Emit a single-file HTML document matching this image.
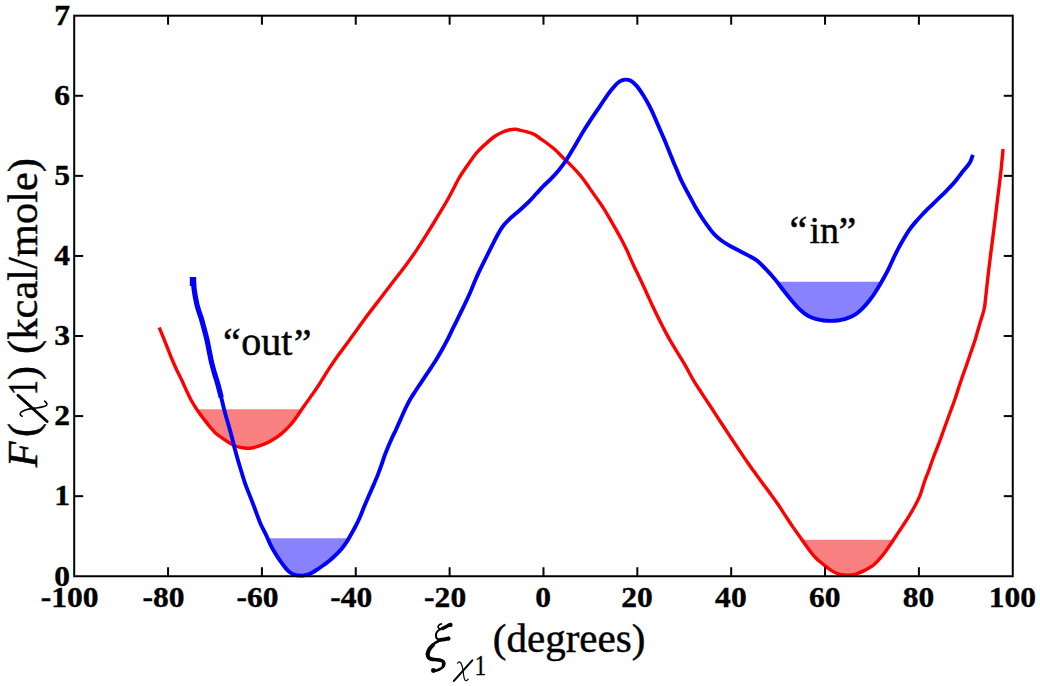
<!DOCTYPE html><html><head><meta charset="utf-8"><style>html,body{margin:0;padding:0;background:#fff;}svg{display:block;}</style></head><body>
<svg width="1040" height="686" viewBox="0 0 1040 686">
<rect width="1040" height="686" fill="#fff"/>
<polygon fill="#f98080" points="196.74,409.30 197.17,410.00 204.09,419.37 209.78,426.55 215.38,432.92 222.30,438.09 229.60,442.95 236.90,446.51 244.18,447.99 251.42,448.04 258.52,446.11 264.77,443.93 270.68,441.08 278.33,436.23 285.02,430.51 291.07,424.27 296.35,417.28 301.64,409.51 301.78,409.30"/>
<polygon fill="#f98080" points="802.01,539.80 807.08,547.03 813.37,555.45 818.91,560.82 824.53,565.36 830.11,569.64 836.00,572.98 842.00,574.73 847.82,575.11 853.09,574.65 858.50,573.04 864.56,570.37 872.37,565.96 879.63,558.83 885.72,551.15 891.58,542.68 893.50,539.80"/>
<polygon fill="#8882ff" points="267.59,538.30 270.12,544.20 273.57,550.60 277.50,556.87 281.50,562.68 285.59,568.12 290.09,572.47 294.98,574.81 299.70,575.57 304.26,575.33 310.55,573.48 317.18,569.52 323.72,565.01 330.28,560.00 336.62,554.20 342.10,548.20 346.68,541.89 348.79,538.30"/>
<polygon fill="#8882ff" points="776.99,281.80 783.23,290.00 791.23,300.00 799.19,308.94 805.06,313.90 810.38,316.94 816.50,319.09 823.48,320.48 830.62,320.89 837.78,320.48 844.72,319.09 851.00,316.85 857.12,313.22 863.28,307.71 869.22,300.82 874.50,293.50 879.60,285.32 881.59,281.80"/>
<path d="M159.20,327.50 C160.00,329.42 162.47,335.31 163.97,339.04 C165.48,342.76 166.86,346.36 168.25,349.86 C169.63,353.35 170.87,356.64 172.29,360.00 C173.71,363.36 175.19,366.67 176.76,370.00 C178.33,373.33 180.13,376.67 181.70,380.00 C183.27,383.33 184.63,386.67 186.19,390.00 C187.75,393.33 189.22,396.67 191.05,400.00 C192.88,403.33 195.00,406.77 197.17,410.00 C199.34,413.23 201.98,416.61 204.09,419.37 C206.19,422.13 207.90,424.30 209.78,426.55 C211.66,428.81 213.29,431.00 215.38,432.92 C217.46,434.84 219.93,436.42 222.30,438.09 C224.67,439.76 227.17,441.54 229.60,442.95 C232.03,444.35 234.47,445.67 236.90,446.51 C239.33,447.35 241.76,447.74 244.18,447.99 C246.60,448.25 249.03,448.36 251.42,448.04 C253.81,447.73 256.30,446.79 258.52,446.11 C260.74,445.42 262.74,444.77 264.77,443.93 C266.79,443.09 268.42,442.36 270.68,441.08 C272.94,439.79 275.94,437.99 278.33,436.23 C280.72,434.47 282.90,432.50 285.02,430.51 C287.14,428.52 289.18,426.48 291.07,424.27 C292.96,422.07 294.59,419.75 296.35,417.28 C298.12,414.82 299.82,412.12 301.64,409.51 C303.45,406.90 305.28,404.40 307.24,401.63 C309.21,398.86 311.38,395.81 313.42,392.86 C315.46,389.92 317.67,386.75 319.49,383.97 C321.32,381.19 322.70,378.85 324.37,376.16 C326.05,373.48 327.23,371.34 329.54,367.87 C331.86,364.39 335.22,359.53 338.25,355.31 C341.28,351.08 344.64,346.70 347.73,342.50 C350.81,338.30 353.90,334.05 356.76,330.09 C359.61,326.13 362.34,322.13 364.84,318.72 C367.34,315.31 369.36,312.76 371.75,309.64 C374.14,306.52 376.68,303.27 379.18,300.00 C381.69,296.73 384.24,293.33 386.78,290.00 C389.32,286.67 391.83,283.33 394.41,280.00 C396.99,276.67 399.71,273.33 402.26,270.00 C404.80,266.67 407.17,263.48 409.66,260.00 C412.16,256.52 414.56,253.12 417.23,249.10 C419.91,245.08 423.17,239.92 425.71,235.90 C428.24,231.88 430.38,228.41 432.46,225.00 C434.55,221.59 436.47,218.37 438.23,215.45 C439.99,212.53 441.47,210.07 443.00,207.50 C444.53,204.93 446.00,202.50 447.41,200.00 C448.82,197.50 450.19,194.93 451.48,192.50 C452.77,190.07 454.04,187.57 455.15,185.45 C456.25,183.33 457.00,181.75 458.12,179.77 C459.23,177.78 460.42,175.74 461.85,173.52 C463.28,171.30 465.04,168.81 466.70,166.42 C468.36,164.03 470.01,161.60 471.80,159.18 C473.59,156.76 475.20,154.37 477.42,151.90 C479.65,149.43 482.36,146.89 485.15,144.37 C487.94,141.84 491.24,138.81 494.17,136.74 C497.11,134.67 500.14,133.10 502.78,131.93 C505.42,130.76 507.90,130.14 510.01,129.71 C512.13,129.27 513.65,129.21 515.46,129.31 C517.28,129.41 519.09,129.90 520.91,130.30 C522.73,130.70 524.51,131.16 526.36,131.69 C528.21,132.22 530.30,132.79 531.99,133.45 C533.68,134.12 535.05,134.78 536.50,135.70 C537.96,136.61 538.92,137.65 540.72,138.95 C542.52,140.25 544.99,141.77 547.30,143.50 C549.61,145.23 552.17,147.18 554.60,149.34 C557.03,151.50 559.47,154.10 561.90,156.47 C564.33,158.85 566.78,161.17 569.18,163.57 C571.58,165.97 574.00,168.34 576.29,170.87 C578.58,173.41 580.75,175.94 582.93,178.77 C585.11,181.60 587.13,184.69 589.38,187.88 C591.63,191.07 594.07,194.53 596.42,197.90 C598.76,201.27 601.25,204.70 603.45,208.10 C605.64,211.50 607.59,214.90 609.58,218.30 C611.57,221.70 613.46,225.06 615.40,228.50 C617.34,231.94 619.34,235.41 621.22,238.97 C623.10,242.53 625.14,246.59 626.69,249.84 C628.23,253.09 629.27,255.73 630.48,258.46 C631.70,261.19 632.35,262.77 633.98,266.22 C635.61,269.67 638.11,274.60 640.27,279.18 C642.44,283.76 644.75,288.86 646.98,293.72 C649.21,298.57 651.39,303.54 653.64,308.30 C655.90,313.06 658.39,318.05 660.51,322.27 C662.63,326.49 664.48,330.08 666.37,333.60 C668.27,337.13 669.84,339.91 671.90,343.40 C673.95,346.90 676.38,350.72 678.72,354.58 C681.06,358.45 683.51,362.38 685.93,366.60 C688.35,370.81 690.62,375.46 693.24,379.87 C695.87,384.29 698.77,388.61 701.68,393.10 C704.60,397.59 707.57,401.98 710.72,406.79 C713.87,411.61 717.43,417.19 720.58,422.01 C723.73,426.82 726.65,431.23 729.62,435.70 C732.59,440.17 735.56,444.59 738.38,448.82 C741.21,453.05 744.11,457.47 746.58,461.06 C749.04,464.66 750.85,467.16 753.17,470.40 C755.49,473.63 757.83,476.89 760.47,480.47 C763.11,484.05 766.15,488.04 768.98,491.88 C771.81,495.72 774.78,499.65 777.45,503.52 C780.12,507.39 782.50,511.30 785.00,515.11 C787.50,518.92 789.93,522.70 792.46,526.38 C795.00,530.07 797.78,533.79 800.21,537.23 C802.65,540.67 804.89,543.99 807.08,547.03 C809.27,550.07 811.39,553.16 813.37,555.45 C815.34,557.75 817.05,559.17 818.91,560.82 C820.77,562.47 822.66,563.89 824.53,565.36 C826.39,566.83 828.20,568.37 830.11,569.64 C832.02,570.91 834.02,572.13 836.00,572.98 C837.98,573.82 840.03,574.37 842.00,574.73 C843.97,575.09 845.97,575.12 847.82,575.11 C849.67,575.10 851.31,574.99 853.09,574.65 C854.87,574.30 856.59,573.75 858.50,573.04 C860.41,572.32 862.25,571.55 864.56,570.37 C866.87,569.19 869.85,567.89 872.37,565.96 C874.88,564.04 877.40,561.30 879.63,558.83 C881.86,556.36 883.73,553.84 885.72,551.15 C887.71,548.46 889.63,545.55 891.58,542.68 C893.53,539.81 895.46,536.83 897.40,533.92 C899.34,531.00 901.27,528.14 903.22,525.18 C905.17,522.22 907.14,519.35 909.08,516.15 C911.03,512.94 913.10,509.33 914.90,505.95 C916.70,502.57 918.65,498.68 919.85,495.86 C921.06,493.04 921.28,491.67 922.14,489.03 C923.01,486.38 923.91,483.17 925.05,480.00 C926.19,476.83 927.73,473.33 928.97,470.00 C930.20,466.67 931.24,463.33 932.46,460.00 C933.68,456.67 935.00,453.33 936.28,450.00 C937.56,446.67 938.89,443.33 940.13,440.00 C941.37,436.67 942.52,433.33 943.72,430.00 C944.92,426.67 946.10,423.33 947.32,420.00 C948.53,416.67 949.79,413.33 951.02,410.00 C952.24,406.67 953.52,403.33 954.67,400.00 C955.83,396.67 956.84,393.33 957.94,390.00 C959.03,386.67 960.11,383.33 961.25,380.00 C962.39,376.67 963.61,373.33 964.78,370.00 C965.95,366.67 967.12,363.33 968.26,360.00 C969.41,356.67 970.53,353.33 971.67,350.00 C972.81,346.67 974.08,343.28 975.12,340.00 C976.16,336.72 977.07,333.32 977.93,330.34 C978.79,327.36 979.55,324.59 980.28,322.12 C981.02,319.64 981.76,317.42 982.34,315.50 C982.92,313.59 983.35,312.31 983.76,310.61 C984.17,308.91 984.49,307.35 984.79,305.29 C985.10,303.23 985.23,301.62 985.60,298.24 C985.97,294.85 986.48,289.86 987.02,285.00 C987.56,280.14 988.14,274.93 988.84,269.10 C989.54,263.27 990.41,256.37 991.22,250.00 C992.02,243.63 992.93,236.73 993.67,230.90 C994.41,225.07 995.04,220.15 995.66,215.00 C996.29,209.85 996.83,205.00 997.44,200.00 C998.04,195.00 998.71,189.86 999.30,185.00 C999.89,180.14 1000.54,175.07 1001.00,170.85 C1001.46,166.62 1001.70,163.27 1002.05,159.63 C1002.40,155.99 1002.93,150.77 1003.10,149.00" fill="none" stroke="#ff0000" stroke-width="3.4" stroke-linejoin="round"/>
<path d="M193.10,277.50 C193.28,279.51 193.63,285.38 194.20,289.54 C194.76,293.70 195.74,299.02 196.47,302.47 C197.19,305.93 197.75,307.67 198.53,310.27 C199.32,312.87 200.27,315.02 201.20,318.09 C202.13,321.17 203.15,325.17 204.10,328.73 C205.05,332.29 206.02,335.77 206.87,339.45 C207.72,343.13 208.42,347.02 209.20,350.82 C209.98,354.61 210.65,358.54 211.53,362.23 C212.40,365.92 213.38,369.23 214.44,372.95 C215.51,376.67 216.79,380.46 217.93,384.55 C219.06,388.64 220.19,393.14 221.26,397.48 C222.34,401.82 223.38,406.65 224.40,410.58 C225.42,414.51 226.46,417.79 227.39,421.07 C228.33,424.34 229.15,427.06 230.02,430.23 C230.89,433.40 231.72,436.67 232.60,440.09 C233.48,443.51 234.34,447.07 235.33,450.73 C236.31,454.40 237.42,458.35 238.50,462.07 C239.58,465.78 240.67,469.32 241.82,473.03 C242.97,476.75 244.10,480.69 245.40,484.37 C246.70,488.04 248.23,491.56 249.61,495.10 C250.99,498.64 252.37,502.15 253.68,505.60 C254.99,509.05 256.28,512.65 257.47,515.81 C258.67,518.97 259.73,521.95 260.87,524.55 C262.01,527.15 263.23,529.19 264.31,531.40 C265.39,533.61 266.41,535.67 267.37,537.80 C268.34,539.93 269.08,542.07 270.12,544.20 C271.15,546.33 272.34,548.49 273.57,550.60 C274.80,552.71 276.18,554.86 277.50,556.87 C278.82,558.89 280.15,560.81 281.50,562.68 C282.85,564.56 284.16,566.49 285.59,568.12 C287.02,569.75 288.52,571.35 290.09,572.47 C291.66,573.58 293.38,574.29 294.98,574.81 C296.58,575.33 298.16,575.49 299.70,575.57 C301.25,575.66 302.45,575.68 304.26,575.33 C306.07,574.98 308.39,574.45 310.55,573.48 C312.70,572.51 314.99,570.93 317.18,569.52 C319.38,568.11 321.53,566.60 323.72,565.01 C325.90,563.42 328.13,561.80 330.28,560.00 C332.43,558.20 334.65,556.17 336.62,554.20 C338.59,552.23 340.42,550.25 342.10,548.20 C343.78,546.15 345.20,544.17 346.68,541.89 C348.17,539.61 349.56,537.04 351.00,534.52 C352.44,532.00 353.87,529.50 355.30,526.76 C356.73,524.01 358.13,521.26 359.56,518.03 C360.99,514.80 362.34,511.08 363.88,507.37 C365.42,503.67 367.16,499.63 368.82,495.80 C370.48,491.97 372.28,488.02 373.84,484.37 C375.40,480.72 376.88,477.26 378.19,473.90 C379.51,470.54 380.71,467.14 381.73,464.22 C382.75,461.31 383.39,459.01 384.33,456.42 C385.26,453.82 386.17,451.52 387.35,448.66 C388.53,445.80 389.99,442.41 391.42,439.25 C392.85,436.09 394.36,433.11 395.93,429.71 C397.49,426.32 399.21,422.42 400.81,418.88 C402.41,415.34 403.93,411.71 405.50,408.45 C407.07,405.19 408.57,402.19 410.21,399.32 C411.84,396.44 413.59,393.87 415.32,391.20 C417.05,388.53 418.83,385.93 420.58,383.30 C422.33,380.67 424.07,378.04 425.82,375.42 C427.57,372.80 429.33,370.24 431.08,367.58 C432.83,364.92 434.57,362.31 436.32,359.47 C438.07,356.62 439.79,353.68 441.58,350.50 C443.37,347.32 445.02,344.39 447.07,340.38 C449.12,336.37 451.36,331.55 453.88,326.44 C456.39,321.33 459.51,315.19 462.16,309.71 C464.80,304.22 467.58,298.39 469.74,293.52 C471.91,288.65 473.47,284.40 475.15,280.50 C476.82,276.61 478.26,273.43 479.80,270.16 C481.34,266.89 482.87,263.96 484.40,260.88 C485.93,257.81 487.47,254.76 489.00,251.70 C490.53,248.64 492.05,245.55 493.60,242.50 C495.15,239.45 496.66,236.30 498.33,233.43 C499.99,230.55 501.74,227.67 503.61,225.27 C505.47,222.87 507.46,220.97 509.51,219.01 C511.56,217.05 513.75,215.38 515.92,213.49 C518.08,211.61 520.28,209.72 522.50,207.70 C524.72,205.68 526.92,203.73 529.24,201.37 C531.57,199.01 534.08,196.12 536.46,193.54 C538.85,190.96 541.21,188.28 543.57,185.89 C545.94,183.49 548.10,181.82 550.67,179.17 C553.24,176.52 556.37,173.20 558.98,170.00 C561.59,166.80 564.09,163.33 566.33,160.00 C568.57,156.67 570.43,153.33 572.42,150.00 C574.41,146.67 576.31,143.33 578.26,140.00 C580.22,136.67 581.99,133.48 584.14,130.00 C586.30,126.52 588.52,123.12 591.18,119.10 C593.85,115.08 597.50,109.78 600.12,105.90 C602.73,102.02 605.00,98.51 606.89,95.81 C608.77,93.11 610.00,91.48 611.45,89.68 C612.89,87.88 614.09,86.44 615.54,85.02 C617.00,83.60 618.57,82.06 620.17,81.16 C621.77,80.26 623.45,79.70 625.15,79.61 C626.84,79.51 628.42,79.54 630.34,80.58 C632.26,81.62 634.54,83.44 636.66,85.85 C638.79,88.25 641.06,91.81 643.09,95.00 C645.13,98.19 647.18,101.82 648.88,105.00 C650.59,108.18 652.09,111.45 653.31,114.10 C654.54,116.75 655.08,118.25 656.23,120.90 C657.38,123.55 658.82,126.82 660.20,130.00 C661.58,133.18 663.13,136.67 664.53,140.00 C665.93,143.33 667.25,146.67 668.60,150.00 C669.95,153.33 671.29,156.70 672.65,160.00 C674.02,163.30 675.45,166.68 676.77,169.82 C678.10,172.96 679.29,175.98 680.59,178.84 C681.89,181.70 683.27,184.42 684.58,186.97 C685.89,189.53 687.24,191.94 688.44,194.16 C689.64,196.37 690.62,198.13 691.77,200.27 C692.93,202.41 694.06,204.71 695.36,207.00 C696.67,209.29 698.14,211.67 699.60,214.00 C701.06,216.33 702.54,218.67 704.14,221.00 C705.75,223.33 707.47,225.72 709.22,228.00 C710.97,230.28 712.72,232.67 714.64,234.68 C716.57,236.69 718.58,238.40 720.76,240.06 C722.95,241.71 725.33,243.14 727.76,244.60 C730.19,246.06 732.88,247.52 735.34,248.84 C737.79,250.15 740.13,251.29 742.50,252.50 C744.87,253.71 747.24,254.81 749.55,256.09 C751.87,257.37 754.35,258.69 756.39,260.18 C758.42,261.67 760.07,263.36 761.78,265.00 C763.49,266.64 765.06,268.33 766.65,270.00 C768.23,271.67 769.67,273.18 771.28,275.00 C772.89,276.82 774.31,278.40 776.30,280.90 C778.29,283.40 780.74,286.82 783.23,290.00 C785.71,293.18 788.57,296.84 791.23,300.00 C793.89,303.16 796.88,306.62 799.19,308.94 C801.49,311.25 803.20,312.57 805.06,313.90 C806.93,315.24 808.47,316.07 810.38,316.94 C812.29,317.80 814.31,318.50 816.50,319.09 C818.68,319.68 821.13,320.18 823.48,320.48 C825.84,320.78 828.23,320.89 830.62,320.89 C833.00,320.89 835.43,320.78 837.78,320.48 C840.13,320.18 842.52,319.70 844.72,319.09 C846.92,318.49 848.93,317.83 851.00,316.85 C853.07,315.87 855.07,314.74 857.12,313.22 C859.16,311.70 861.26,309.78 863.28,307.71 C865.30,305.64 867.35,303.19 869.22,300.82 C871.09,298.45 872.77,296.08 874.50,293.50 C876.23,290.92 877.92,288.14 879.60,285.32 C881.28,282.50 883.00,279.42 884.56,276.55 C886.12,273.69 887.50,271.14 888.96,268.14 C890.42,265.14 891.75,261.86 893.32,258.57 C894.89,255.29 896.67,251.70 898.38,248.45 C900.10,245.20 901.83,242.13 903.62,239.08 C905.41,236.03 907.15,232.96 909.12,230.13 C911.08,227.31 913.27,224.66 915.42,222.13 C917.57,219.59 919.81,217.23 922.00,214.91 C924.19,212.59 926.40,210.40 928.58,208.22 C930.77,206.03 932.96,203.88 935.12,201.79 C937.28,199.70 939.51,197.69 941.56,195.68 C943.60,193.68 945.56,191.65 947.39,189.76 C949.23,187.88 950.94,186.18 952.56,184.38 C954.17,182.58 955.59,180.85 957.10,178.96 C958.61,177.06 960.10,174.96 961.64,173.00 C963.19,171.04 965.05,168.90 966.39,167.21 C967.74,165.51 968.92,164.12 969.73,162.82 C970.54,161.53 970.73,160.79 971.26,159.45 C971.79,158.11 972.63,155.58 972.90,154.80" fill="none" stroke="#0000ff" stroke-width="3.9" stroke-linejoin="round"/>
<path d="M193.10,277.50 C193.28,279.51 193.63,285.38 194.20,289.54 C194.76,293.70 195.74,299.02 196.47,302.47 C197.19,305.93 197.75,307.67 198.53,310.27 C199.32,312.87 200.27,315.02 201.20,318.09 C202.13,321.17 203.15,325.17 204.10,328.73 C205.05,332.29 206.02,335.77 206.87,339.45 C207.72,343.13 208.42,347.02 209.20,350.82 C209.98,354.61 210.65,358.54 211.53,362.23 C212.40,365.92 213.38,369.23 214.44,372.95 C215.51,376.67 216.79,380.46 217.93,384.55 C219.06,388.64 220.71,395.33 221.26,397.48" fill="none" stroke="#0000ff" stroke-width="5.2" stroke-linejoin="round"/>
<rect x="189.8" y="277" width="6.4" height="9" fill="#0000ff"/>
<g stroke="#000" stroke-width="2" fill="none">
<rect x="74.20" y="15.70" width="938.55" height="560.55"/>
<line x1="168.06" y1="576.25" x2="168.06" y2="567.25"/>
<line x1="168.06" y1="15.70" x2="168.06" y2="24.70"/>
<line x1="261.91" y1="576.25" x2="261.91" y2="567.25"/>
<line x1="261.91" y1="15.70" x2="261.91" y2="24.70"/>
<line x1="355.76" y1="576.25" x2="355.76" y2="567.25"/>
<line x1="355.76" y1="15.70" x2="355.76" y2="24.70"/>
<line x1="449.62" y1="576.25" x2="449.62" y2="567.25"/>
<line x1="449.62" y1="15.70" x2="449.62" y2="24.70"/>
<line x1="543.48" y1="576.25" x2="543.48" y2="567.25"/>
<line x1="543.48" y1="15.70" x2="543.48" y2="24.70"/>
<line x1="637.33" y1="576.25" x2="637.33" y2="567.25"/>
<line x1="637.33" y1="15.70" x2="637.33" y2="24.70"/>
<line x1="731.18" y1="576.25" x2="731.18" y2="567.25"/>
<line x1="731.18" y1="15.70" x2="731.18" y2="24.70"/>
<line x1="825.04" y1="576.25" x2="825.04" y2="567.25"/>
<line x1="825.04" y1="15.70" x2="825.04" y2="24.70"/>
<line x1="918.89" y1="576.25" x2="918.89" y2="567.25"/>
<line x1="918.89" y1="15.70" x2="918.89" y2="24.70"/>
<line x1="74.20" y1="496.17" x2="83.20" y2="496.17"/>
<line x1="1012.75" y1="496.17" x2="1003.75" y2="496.17"/>
<line x1="74.20" y1="416.09" x2="83.20" y2="416.09"/>
<line x1="1012.75" y1="416.09" x2="1003.75" y2="416.09"/>
<line x1="74.20" y1="336.01" x2="83.20" y2="336.01"/>
<line x1="1012.75" y1="336.01" x2="1003.75" y2="336.01"/>
<line x1="74.20" y1="255.94" x2="83.20" y2="255.94"/>
<line x1="1012.75" y1="255.94" x2="1003.75" y2="255.94"/>
<line x1="74.20" y1="175.86" x2="83.20" y2="175.86"/>
<line x1="1012.75" y1="175.86" x2="1003.75" y2="175.86"/>
<line x1="74.20" y1="95.78" x2="83.20" y2="95.78"/>
<line x1="1012.75" y1="95.78" x2="1003.75" y2="95.78"/>
</g>
<g font-family="Liberation Serif, serif" font-weight="bold" font-size="29.5" fill="#000" stroke="#000" stroke-width="0.35">
<text transform="translate(69.70,606.6) scale(1.07,1)" text-anchor="middle">-100</text>
<text transform="translate(163.56,606.6) scale(1.07,1)" text-anchor="middle">-80</text>
<text transform="translate(257.41,606.6) scale(1.07,1)" text-anchor="middle">-60</text>
<text transform="translate(351.26,606.6) scale(1.07,1)" text-anchor="middle">-40</text>
<text transform="translate(445.12,606.6) scale(1.07,1)" text-anchor="middle">-20</text>
<text transform="translate(543.18,606.6) scale(1.07,1)" text-anchor="middle">0</text>
<text transform="translate(637.03,606.6) scale(1.07,1)" text-anchor="middle">20</text>
<text transform="translate(730.88,606.6) scale(1.07,1)" text-anchor="middle">40</text>
<text transform="translate(824.74,606.6) scale(1.07,1)" text-anchor="middle">60</text>
<text transform="translate(918.60,606.6) scale(1.07,1)" text-anchor="middle">80</text>
<text transform="translate(1012.45,606.6) scale(1.07,1)" text-anchor="middle">100</text>
<text transform="translate(70.1,585.55) scale(1.07,1)" text-anchor="end">0</text>
<text transform="translate(70.1,505.47) scale(1.07,1)" text-anchor="end">1</text>
<text transform="translate(70.1,425.39) scale(1.07,1)" text-anchor="end">2</text>
<text transform="translate(70.1,345.31) scale(1.07,1)" text-anchor="end">3</text>
<text transform="translate(70.1,265.24) scale(1.07,1)" text-anchor="end">4</text>
<text transform="translate(70.1,185.16) scale(1.07,1)" text-anchor="end">5</text>
<text transform="translate(70.1,105.08) scale(1.07,1)" text-anchor="end">6</text>
<text transform="translate(70.1,25.00) scale(1.07,1)" text-anchor="end">7</text>
</g>
<g font-family="Liberation Serif, serif" font-size="42" fill="#000" stroke="#000" stroke-width="0.45">
<g fill="none" stroke="#000" stroke-linecap="round">
<path d="M441.4,623.9 C438.7,624.4 437.6,626.2 438.2,627.7 C438.9,629.2 441,629.1 443.5,628.2" stroke-width="1.6"/>
<path d="M442.5,628.5 C445,627.4 447.6,625.7 450.3,624.6" stroke-width="3.6"/>
<circle cx="450.4" cy="624.9" r="2.2" fill="#000" stroke="none"/>
<path d="M441.5,628.9 C438.2,630.1 435.9,632.6 435.9,635.5 C435.9,638 437.6,639.6 440.2,639.9" stroke-width="2"/>
<path d="M440.2,639.9 C443,639.7 445.8,639.2 448.3,638.5" stroke-width="3.8"/>
<circle cx="448.4" cy="638.6" r="2.1" fill="#000" stroke="none"/>
<path d="M440,640.3 C435,642.6 430.2,646 427.8,650.5 C425.8,655 427.3,658.4 431.6,659.1 C435.2,659.6 439.2,659.4 442,660.6 C444.6,661.7 444.8,664.6 443,666.8 C441,669 437.3,670.4 433.6,670.9" stroke-width="2.6"/>
<path d="M433,645.2 C429.6,648.4 427.4,652.5 428.1,656.2 C428.7,658.2 430.5,659.1 432.5,659.3" stroke-width="3.8"/>
<path d="M432,659.4 C436,659.7 439.5,659.7 442.3,661 C443.9,662 444.1,664 443.3,665.8" stroke-width="3.4"/>
<circle cx="433.4" cy="670.5" r="2.4" fill="#000" stroke="none"/>
</g>
<g transform="translate(453.4,659.9)" fill="none" stroke="#000"><path d="M18.9,0.5 L0.5,21" stroke-width="2.1" stroke-linecap="round"/>
<path d="M4.2,3.4 C4.8,1.9 6,1.6 7,2.6 C8.6,4.3 9.4,8 9.9,12.5 C10.3,16 10.5,19 11.8,20.5 C12.6,21.3 13.8,20.6 14.8,19.3" stroke-width="1.15" stroke-linecap="round"/></g>
<text transform="translate(474.85,674.6) scale(0.78,1)" font-size="29">1</text>
<text x="492.8" y="652.2" font-size="41">(degrees)</text>
<g transform="rotate(-90)">
<text x="-467.35" y="37.3" font-style="italic">F</text>
<text x="-437.1" y="37.3">(</text>
</g><g transform="translate(17.3,422.2) rotate(-90) scale(1.42)" fill="none" stroke="#000"><path d="M18.9,0.5 L0.5,21" stroke-width="2.1" stroke-linecap="round"/>
<path d="M4.2,3.4 C4.8,1.9 6,1.6 7,2.6 C8.6,4.3 9.4,8 9.9,12.5 C10.3,16 10.5,19 11.8,20.5 C12.6,21.3 13.8,20.6 14.8,19.3" stroke-width="1.15" stroke-linecap="round"/></g><g transform="rotate(-90)">
<text transform="translate(-395.3,37.3) scale(0.72,1)">1</text>
<text x="-379.9" y="37.3">)</text>
<text x="-353.9" y="37.3" font-size="42.5">(kcal/mole)</text>
</g>
<text x="223.1" y="356.4" font-size="40">&#8220;</text>
<text x="241.3" y="355.2" font-size="40">out</text>
<text x="293.8" y="356.4" font-size="40">&#8221;</text>
<text x="789.6" y="244.2" font-size="40">&#8220;</text>
<text x="809.4" y="243.1" font-size="38">in</text>
<text x="838.4" y="244.2" font-size="40">&#8221;</text>
</g>
</svg></body></html>
